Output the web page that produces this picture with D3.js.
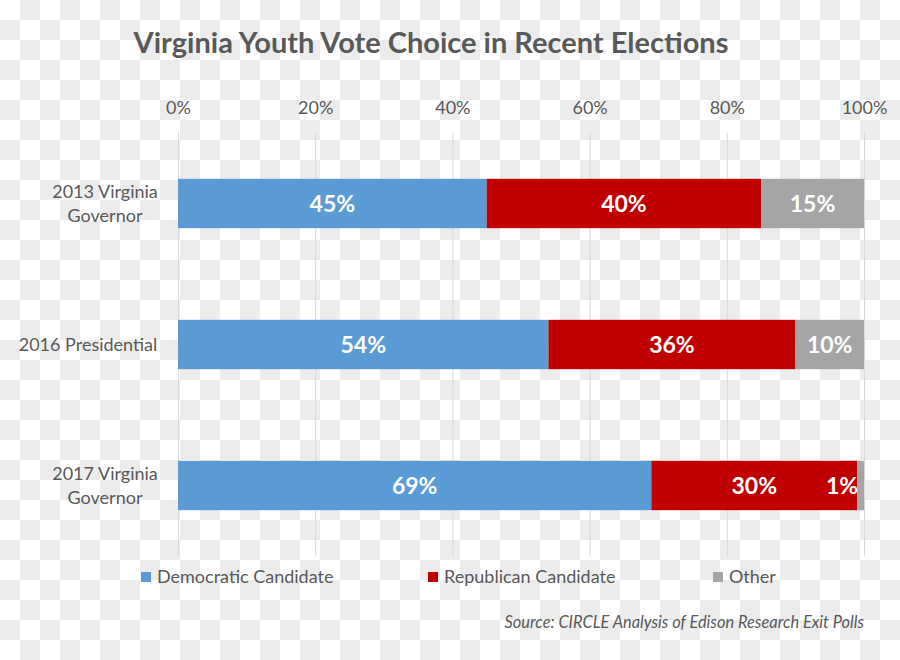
<!DOCTYPE html>
<html>
<head>
<meta charset="utf-8">
<script src="https://cdn.jsdelivr.net/npm/d3@7"></script>
<style>
  html, body { margin: 0; padding: 0; background: #fff; }
  svg { display: block; }
  text { font-family: Lato, "Open Sans", sans-serif; }
</style>
</head>
<body>
<svg id="chart" width="900" height="660"></svg>
<script>
const categories = ["2013 Virginia Governor", "2016 Presidential", "2017 Virginia Governor"];
const categoryLines = [["2013 Virginia", "Governor"], ["2016 Presidential"], ["2017 Virginia", "Governor"]];
const seriesNames = ["Democratic Candidate", "Republican Candidate", "Other"];
const democratic = [45, 54, 69];
const republican = [40, 36, 30];
const other = [15, 10, 1];
const tickValues = [0, 20, 40, 60, 80, 100];
const seriesColors = ["#5b9bd5", "#c00000", "#a5a5a5"];

const svg = d3.select("#chart");
const W = 900, H = 660;

// checkerboard background
const defs = svg.append("defs");
const pat = defs.append("pattern").attr("id", "checker")
  .attr("width", 40).attr("height", 40).attr("patternUnits", "userSpaceOnUse");
pat.append("rect").attr("width", 40).attr("height", 40).attr("fill", "#ffffff");
pat.append("rect").attr("x", 20).attr("y", 0).attr("width", 20).attr("height", 20).attr("fill", "#ececec");
pat.append("rect").attr("x", 0).attr("y", 20).attr("width", 20).attr("height", 20).attr("fill", "#ececec");
svg.append("rect").attr("width", W).attr("height", H).attr("fill", "url(#checker)");

const x = d3.scaleLinear().domain([0, 100]).range([178, 864]);
const y = d3.scaleBand().domain(categories).range([133, 556])
  .paddingInner(0.65).paddingOuter(0.325);

// title
svg.append("text")
  .attr("x", 431).attr("y", 53)
  .attr("text-anchor", "middle")
  .attr("font-size", 29).attr("font-weight", "bold")
  .attr("fill", "#595959")
  .text("Virginia Youth Vote Choice in Recent Elections");

// gridlines
svg.append("g").selectAll("line").data(tickValues).join("line")
  .attr("x1", d => x(d) + 0.5).attr("x2", d => x(d) + 0.5)
  .attr("y1", 133).attr("y2", 556)
  .attr("stroke", "#d9d9d9").attr("stroke-width", 1);

// top axis labels
const axis = d3.axisTop(x).tickValues(tickValues).tickFormat(d => d + "%").tickSize(0).tickPadding(0);
const axG = svg.append("g").attr("transform", "translate(0,114)").call(axis);
axG.select(".domain").remove();
axG.selectAll("text").attr("font-size", 18).attr("fill", "#595959")
  .attr("font-family", "Lato, 'Open Sans', sans-serif");

// stacked data
const rows = categories.map((c, i) => ({ cat: c, v: [democratic[i], republican[i], other[i]] }));
const segs = [];
rows.forEach(r => {
  let acc = 0;
  r.v.forEach((v, k) => {
    segs.push({ cat: r.cat, k, v, x0: acc, x1: acc + v });
    acc += v;
  });
});

svg.append("g").selectAll("rect").data(segs).join("rect")
  .attr("x", d => x(d.x0)).attr("width", d => x(d.x1) - x(d.x0))
  .attr("y", d => y(d.cat)).attr("height", y.bandwidth())
  .attr("fill", d => seriesColors[d.k]);

svg.append("g").selectAll("text").data(segs).join("text")
  .attr("x", d => (x(d.x1) - x(d.x0)) < 30 ? x(d.x0) + 1 : (x(d.x0) + x(d.x1)) / 2)
  .attr("text-anchor", d => (x(d.x1) - x(d.x0)) < 30 ? "end" : "middle")
  .attr("y", d => y(d.cat) + y.bandwidth() / 2)
  .attr("dy", "0.35em")
  .attr("font-size", 23).attr("font-weight", "bold").attr("fill", "#ffffff")
  .text(d => d.v + "%");

// category labels
const catG = svg.append("g");
categories.forEach((c, i) => {
  const lines = categoryLines[i];
  const cy = y(c) + y.bandwidth() / 2;
  const lh = 24;
  const t = catG.append("text")
    .attr("text-anchor", "middle")
    .attr("font-size", 18).attr("fill", "#595959");
  lines.forEach((ln, j) => {
    t.append("tspan")
      .attr("x", lines.length > 1 ? 105 : 88)
      .attr("y", cy + (j - (lines.length - 1) / 2) * lh)
      .attr("dy", "0.35em")
      .text(ln);
  });
});

// legend
const legendX = [141, 428, 713];
const lg = svg.append("g");
seriesNames.forEach((s, i) => {
  lg.append("rect").attr("x", legendX[i]).attr("y", 572).attr("width", 10).attr("height", 10)
    .attr("fill", seriesColors[i]);
  lg.append("text").attr("x", legendX[i] + 16).attr("y", 577).attr("dy", "0.35em")
    .attr("font-size", 18).attr("fill", "#595959").text(s);
});

// source
svg.append("text")
  .attr("x", 864).attr("y", 628)
  .attr("text-anchor", "end")
  .attr("font-size", 16.4).attr("font-style", "italic").attr("fill", "#595959")
  .text("Source: CIRCLE Analysis of Edison Research Exit Polls");
</script>
</body>
</html>
